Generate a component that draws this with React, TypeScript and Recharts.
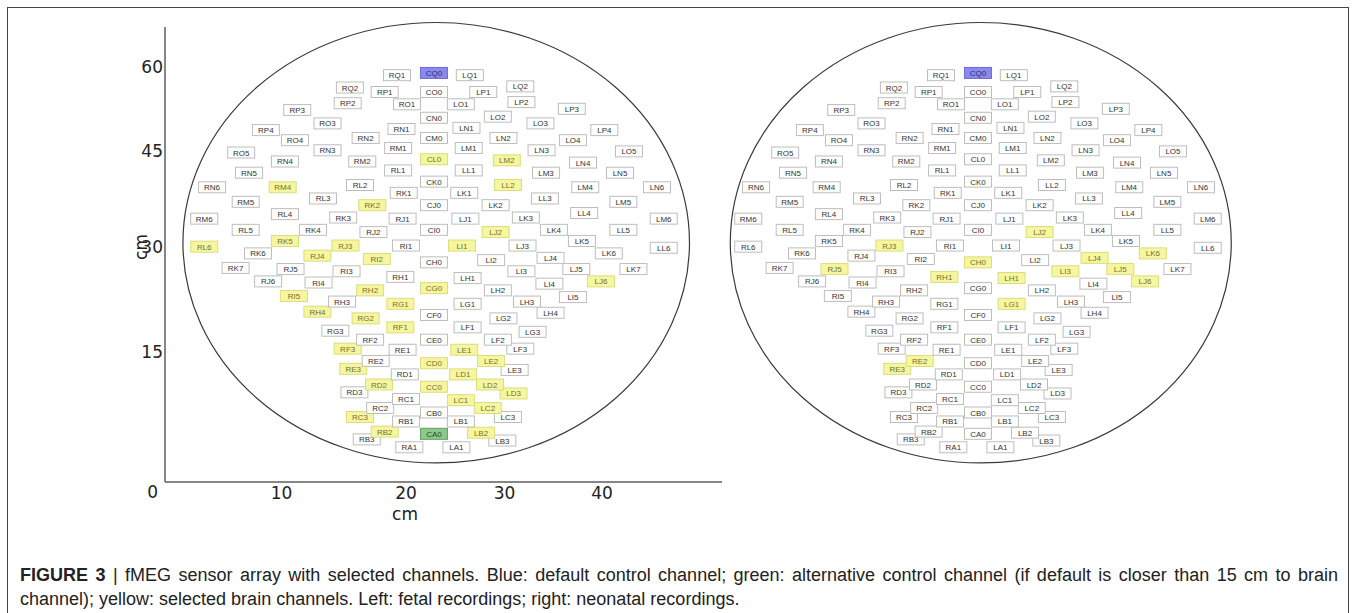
import React from 'react';
import { ScatterChart, Scatter, XAxis, YAxis, ReferenceArea, Label } from 'recharts';

type Row = [string, number, number];

// sensor positions (cm)
const centerColumn: Row[] = [
  ['CQ0', 24.3, 36.5], ['CO0', 24.3, 34.8], ['CN0', 24.3, 32.5], ['CM0', 24.3, 30.7],
  ['CL0', 24.3, 28.8], ['CK0', 24.3, 26.8], ['CJ0', 24.3, 24.7], ['CI0', 24.3, 22.5],
  ['CH0', 24.3, 19.6], ['CG0', 24.3, 17.3], ['CF0', 24.3, 14.9], ['CE0', 24.3, 12.7],
  ['CD0', 24.3, 10.6], ['CC0', 24.3, 8.5], ['CB0', 24.3, 6.2], ['CA0', 24.3, 4.3],
];

const rightHemisphere: Row[] = [
  ['RQ1', 21.0, 36.3], ['RQ2', 16.8, 35.2],
  ['RP1', 19.9, 34.8], ['RP2', 16.6, 33.8], ['RP3', 12.1, 33.2], ['RP4', 9.3, 31.4],
  ['RO1', 21.9, 33.7], ['RO3', 14.8, 32.0], ['RO4', 11.9, 30.5], ['RO5', 7.1, 29.4],
  ['RN1', 21.4, 31.5], ['RN2', 18.2, 30.7], ['RN3', 14.8, 29.6], ['RN4', 11.0, 28.6], ['RN5', 7.8, 27.6], ['RN6', 4.5, 26.3],
  ['RM1', 21.1, 29.8], ['RM2', 17.9, 28.6], ['RM4', 10.8, 26.3], ['RM5', 7.5, 25.0], ['RM6', 3.8, 23.5],
  ['RL1', 21.1, 27.8], ['RL2', 17.7, 26.5], ['RL3', 14.4, 25.3], ['RL4', 11.0, 23.9], ['RL5', 7.5, 22.5], ['RL6', 3.8, 21.0],
  ['RK1', 21.6, 25.8], ['RK2', 18.8, 24.7], ['RK3', 16.2, 23.6], ['RK4', 13.5, 22.5], ['RK5', 11.0, 21.5], ['RK6', 8.6, 20.4], ['RK7', 6.6, 19.1],
  ['RJ1', 21.5, 23.5], ['RJ2', 18.9, 22.3], ['RJ3', 16.4, 21.1], ['RJ4', 13.9, 20.2], ['RJ5', 11.5, 19.0], ['RJ6', 9.5, 17.9],
  ['RI1', 21.8, 21.1], ['RI2', 19.2, 19.9], ['RI3', 16.5, 18.8], ['RI4', 14.0, 17.8], ['RI5', 11.8, 16.6],
  ['RH1', 21.3, 18.3], ['RH2', 18.6, 17.1], ['RH3', 16.1, 16.1], ['RH4', 13.9, 15.2],
  ['RG1', 21.3, 15.9], ['RG2', 18.2, 14.6], ['RG3', 15.5, 13.5],
  ['RF1', 21.3, 13.8], ['RF2', 18.6, 12.7], ['RF3', 16.6, 11.9],
  ['RE1', 21.5, 11.8], ['RE2', 19.1, 10.8], ['RE3', 17.1, 10.1],
  ['RD1', 21.7, 9.6], ['RD2', 19.4, 8.7], ['RD3', 17.2, 8.0],
  ['RC1', 21.8, 7.4], ['RC2', 19.5, 6.6], ['RC3', 17.7, 5.8],
  ['RB1', 21.8, 5.4], ['RB2', 19.9, 4.5], ['RB3', 18.3, 3.8],
  ['RA1', 22.1, 3.1],
];

const leftHemisphere: Row[] = [
  ['LQ1', 27.5, 36.3], ['LQ2', 32.0, 35.3],
  ['LP1', 28.7, 34.8], ['LP2', 32.1, 33.9], ['LP3', 36.6, 33.3], ['LP4', 39.5, 31.4],
  ['LO1', 26.7, 33.7], ['LO2', 30.0, 32.6], ['LO3', 33.8, 32.0], ['LO4', 36.7, 30.5], ['LO5', 41.7, 29.5],
  ['LN1', 27.2, 31.6], ['LN2', 30.5, 30.7], ['LN3', 33.9, 29.6], ['LN4', 37.6, 28.5], ['LN5', 40.9, 27.6], ['LN6', 44.2, 26.3],
  ['LM1', 27.4, 29.8], ['LM2', 30.8, 28.7], ['LM3', 34.3, 27.6], ['LM4', 37.8, 26.3], ['LM5', 41.2, 25.0], ['LM6', 44.8, 23.5],
  ['LL1', 27.4, 27.8], ['LL2', 30.9, 26.5], ['LL3', 34.2, 25.3], ['LL4', 37.7, 24.0], ['LL5', 41.2, 22.5], ['LL6', 44.8, 20.9],
  ['LK1', 27.0, 25.8], ['LK2', 29.8, 24.7], ['LK3', 32.5, 23.6], ['LK4', 35.0, 22.5], ['LK5', 37.5, 21.5], ['LK6', 39.9, 20.4], ['LK7', 42.1, 19.0],
  ['LJ1', 27.1, 23.5], ['LJ2', 29.8, 22.3], ['LJ3', 32.2, 21.1], ['LJ4', 34.7, 20.0], ['LJ5', 37.0, 19.0], ['LJ6', 39.2, 17.9],
  ['LI1', 26.8, 21.1], ['LI2', 29.4, 19.8], ['LI3', 32.1, 18.8], ['LI4', 34.6, 17.7], ['LI5', 36.7, 16.5],
  ['LH1', 27.3, 18.2], ['LH2', 30.0, 17.1], ['LH3', 32.6, 16.1], ['LH4', 34.7, 15.1],
  ['LG1', 27.3, 15.9], ['LG2', 30.5, 14.6], ['LG3', 33.1, 13.4],
  ['LF1', 27.3, 13.8], ['LF2', 30.0, 12.7], ['LF3', 32.0, 11.9],
  ['LE1', 27.0, 11.8], ['LE2', 29.4, 10.8], ['LE3', 31.5, 10.0],
  ['LD1', 26.9, 9.6], ['LD2', 29.3, 8.7], ['LD3', 31.4, 7.9],
  ['LC1', 26.7, 7.3], ['LC2', 29.1, 6.6], ['LC3', 30.9, 5.8],
  ['LB1', 26.7, 5.4], ['LB2', 28.5, 4.4], ['LB3', 30.4, 3.7],
  ['LA1', 26.3, 3.1],
];

// channel selections
const fetalControl = ['CQ0'];
const fetalAlternative = ['CA0'];
const fetalBrain = [
  'CL0', 'RM4', 'RK2', 'RL6', 'RK5', 'RJ3', 'RJ4', 'RI2', 'RI5', 'RH2', 'RG1', 'RH4', 'RG2',
  'RF1', 'RF3', 'RE3', 'RD2', 'RC3', 'RB2', 'CG0', 'CD0', 'CC0', 'LM2', 'LL2', 'LJ2', 'LI1',
  'LJ6', 'LE1', 'LE2', 'LD1', 'LD2', 'LD3', 'LC1', 'LC2', 'LB2',
];
const neonatalControl = ['CQ0'];
const neonatalAlternative: string[] = [];
const neonatalBrain = [
  'RJ3', 'RJ5', 'CH0', 'RH1', 'RE2', 'RE3', 'LJ2', 'LJ4', 'LK6', 'LI3', 'LJ5', 'LJ6', 'LH1', 'LG1',
];

// axes
const xDomain = [0.3, 50];
const yDomain = [0, 40.6];
const xTickValues = [10.7, 21.8, 30.6, 39.3];
const xTickLabels = ['10', '20', '30', '40'];
const yTickValues = [0, 11.6, 21.0, 29.5, 37.05];
const yTickLabels = ['0', '15', '30', '45', '60'];
const axisTitle = 'cm';

// sensor array outline (bounding box of the ellipse, cm)
const fetalOutlineX = [1.9, 47.1];
const neonatalOutlineX = [2.2, 46.9];
const outlineY = [1.7, 41.0];

const captionLine1Bold = 'FIGURE 3';
const captionLine1 =
  'fMEG sensor array with selected channels. Blue: default control channel; green: alternative control channel (if default is closer than 15 cm to brain';
const captionLine2 =
  'channel); yellow: selected brain channels. Left: fetal recordings; right: neonatal recordings.';

const STYLES: Record<string, { fill: string; stroke: string; text: string }> = {
  plain: { fill: '#ffffff', stroke: '#bdbdbd', text: '#333333' },
  brain: { fill: '#f6f69e', stroke: '#dcdc80', text: '#70703a' },
  control: { fill: '#8a8aee', stroke: '#6c6cd2', text: '#2c2c70' },
  alternative: { fill: '#8cc88c', stroke: '#62a062', text: '#264a26' },
};

const allSensors = [...rightHemisphere, ...centerColumn, ...leftHemisphere]
  .map(([name, x, y]) => ({ name, x, y }))
  .sort((a, b) => Number(b.name.slice(2)) - Number(a.name.slice(2)));

const AXIS_FONT = '"DejaVu Sans", Verdana, sans-serif';
const AXIS_SIZE = 17;

const SensorShape = (p: any) => {
  const { cx, cy, payload } = p;
  const s = STYLES[payload.kind] || STYLES.plain;
  return (
    <g>
      <rect x={cx - 13.5} y={cy - 5.5} width={27} height={11} fill={s.fill} stroke={s.stroke} strokeWidth={1} />
      <text
        x={cx}
        y={cy + 3}
        textAnchor="middle"
        fontSize={8}
        fontFamily='"Liberation Sans", Arial, sans-serif'
        fill={s.text}
      >
        {payload.name}
      </text>
    </g>
  );
};

const EllipseShape = (p: any) => (
  <ellipse
    cx={p.x + p.width / 2}
    cy={p.y + p.height / 2}
    rx={Math.abs(p.width) / 2}
    ry={Math.abs(p.height) / 2}
    fill="none"
    stroke="#3a3a3a"
    strokeWidth={1.2}
  />
);

const XTick = (p: any) => {
  const i = xTickValues.indexOf(p.payload.value);
  return (
    <text x={p.x} y={p.y + 17} textAnchor="middle" fontSize={AXIS_SIZE} fontFamily={AXIS_FONT} fill="#222">
      {xTickLabels[i]}
    </text>
  );
};

const YTick = (p: any) => {
  const i = yTickValues.indexOf(p.payload.value);
  const origin = p.payload.value === 0;
  return (
    <text
      x={origin ? p.x - 7 : p.x - 2}
      y={origin ? p.y + 16 : p.y + 6}
      textAnchor="end"
      fontSize={AXIS_SIZE}
      fontFamily={AXIS_FONT}
      fill="#222"
    >
      {yTickLabels[i]}
    </text>
  );
};

const XTitle = (p: any) => {
  const vb = p.viewBox || {};
  return (
    <text x={vb.x + 240} y={vb.y + 38} textAnchor="middle" fontSize={AXIS_SIZE} fontFamily={AXIS_FONT} fill="#222">
      {axisTitle}
    </text>
  );
};

const YTitle = (p: any) => {
  const vb = p.viewBox || {};
  const x = vb.x + 16;
  const y = 247;
  return (
    <text
      x={x}
      y={y}
      transform={`rotate(-90, ${x}, ${y})`}
      textAnchor="middle"
      dominantBaseline="central"
      fontSize={AXIS_SIZE}
      fontFamily={AXIS_FONT}
      fill="#222"
    >
      {axisTitle}
    </text>
  );
};

type PanelProps = {
  left: number;
  control: string[];
  alternative: string[];
  brain: string[];
  outlineX: number[];
  showAxes: boolean;
};

const Panel = ({ left, control, alternative, brain, outlineX, showAxes }: PanelProps) => {
  const data = allSensors.map((s) => ({
    ...s,
    kind: control.includes(s.name)
      ? 'control'
      : alternative.includes(s.name)
      ? 'alternative'
      : brain.includes(s.name)
      ? 'brain'
      : 'plain',
  }));
  const axisLine = showAxes ? { stroke: '#5e5e5e', strokeWidth: 1.5 } : false;
  return (
    <div style={{ position: 'absolute', left, top: 0 }}>
      <ScatterChart width={740} height={540} margin={{ top: 27, right: 18, bottom: 28, left: 125 }}>
        <XAxis
          type="number"
          dataKey="x"
          domain={xDomain}
          ticks={xTickValues}
          interval={0}
          allowDataOverflow
          height={30}
          tickSize={0}
          tickMargin={0}
          tickLine={false}
          axisLine={axisLine as any}
          tick={showAxes ? (p: any) => <XTick {...p} /> : false}
        >
          {showAxes && <Label content={(p: any) => <XTitle {...p} />} />}
        </XAxis>
        <YAxis
          type="number"
          dataKey="y"
          domain={yDomain}
          ticks={yTickValues}
          interval={0}
          allowDataOverflow
          width={40}
          tickSize={0}
          tickMargin={0}
          tickLine={false}
          axisLine={axisLine as any}
          tick={showAxes ? (p: any) => <YTick {...p} /> : false}
        >
          {showAxes && <Label content={(p: any) => <YTitle {...p} />} />}
        </YAxis>
        <ReferenceArea
          x1={outlineX[0]}
          x2={outlineX[1]}
          y1={outlineY[0]}
          y2={outlineY[1]}
          ifOverflow="visible"
          shape={EllipseShape}
        />
        <Scatter data={data} shape={SensorShape} isAnimationActive={false} />
      </ScatterChart>
    </div>
  );
};

const captionStyle: React.CSSProperties = {
  position: 'absolute',
  left: 20,
  fontFamily: '"Liberation Sans", Arial, sans-serif',
  fontSize: 18,
  lineHeight: '24px',
  color: '#222',
};

export default function App() {
  return (
    <div
      style={{
        position: 'absolute',
        left: 0,
        top: 0,
        width: 1356,
        height: 613,
        overflow: 'hidden',
        background: '#fff',
      }}
    >
      <div
        style={{
          position: 'absolute',
          left: 7,
          top: 7,
          width: 1342,
          height: 640,
          border: '1px solid #444',
          boxSizing: 'border-box',
        }}
      />
      <Panel
        left={0}
        control={fetalControl}
        alternative={fetalAlternative}
        brain={fetalBrain}
        outlineX={fetalOutlineX}
        showAxes
      />
      <Panel
        left={544}
        control={neonatalControl}
        alternative={neonatalAlternative}
        brain={neonatalBrain}
        outlineX={neonatalOutlineX}
        showAxes={false}
      />
      <div
        style={{
          ...captionStyle,
          top: 563,
          width: 1318,
          textAlign: 'justify',
          textAlignLast: 'justify' as any,
        }}
      >
        <b>{captionLine1Bold}</b> | {captionLine1}
      </div>
      <div style={{ ...captionStyle, top: 587, whiteSpace: 'nowrap' }}>{captionLine2}</div>
    </div>
  );
}
